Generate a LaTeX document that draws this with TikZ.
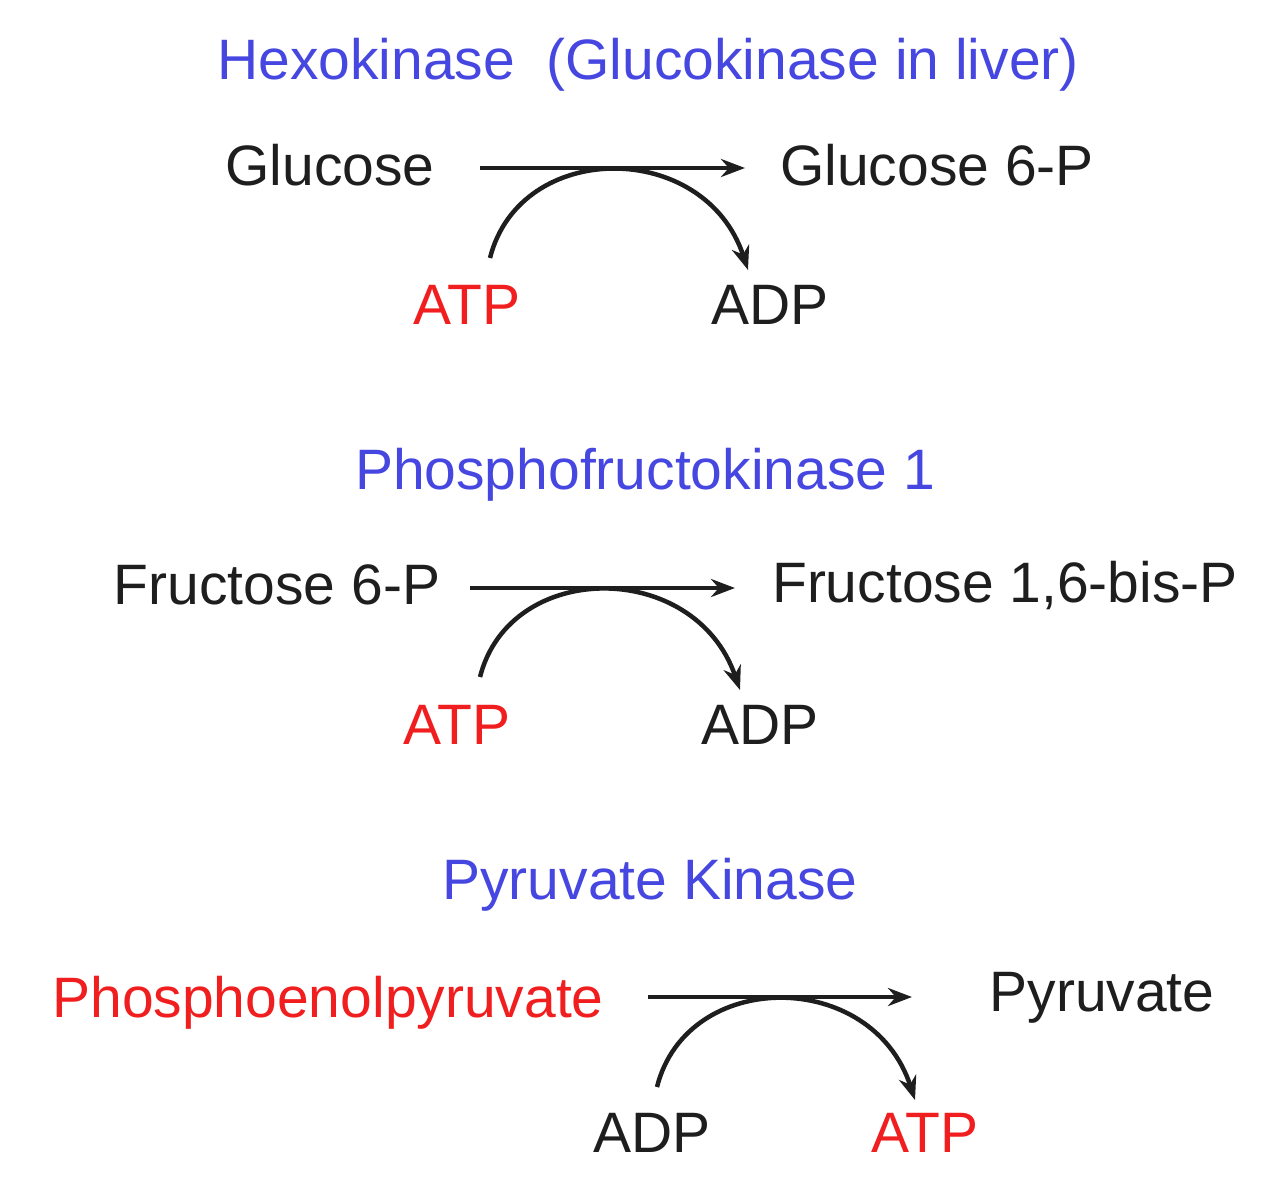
\documentclass[tikz,border=0pt]{standalone}
\usepackage{fontspec}
\setmainfont{Liberation Sans}
\usetikzlibrary{arrows.meta}
\definecolor{enz}{RGB}{70,70,225}
\definecolor{hot}{RGB}{240,30,30}
\definecolor{ink}{RGB}{30,30,30}
\tikzset{
  lbl/.style={inner sep=0pt,font=\fontsize{57}{60}\selectfont,text=ink},
  enzl/.style={lbl,text=enz},
  redl/.style={lbl,text=hot},
  rxn/.style={line width=4.5pt,draw=ink,-{Stealth[length=24pt,width=18pt]}},
}
\begin{document}
\begin{tikzpicture}[x=1pt,y=-1pt]
\useasboundingbox (0,0) rectangle (1268,1200);
% Row 1
\node[enzl] (t1) at (648,65) {Hexokinase\ \ (Glucokinase in liver)};
\node[lbl] (glc) at (330,165) {Glucose};
\node[lbl] (g6p) at (937,165) {Glucose 6-P};
\coordinate (a1s) at (480,168); \coordinate (a1e) at (745,168);
\draw[rxn] (a1s) -- (a1e);
\node[redl] (atp1) at (467,305) {ATP};
\node[lbl] (adp1) at (770,305) {ADP};
\coordinate (c1s) at (490,258); \coordinate (c1e) at (748,270);
\draw[rxn] (c1s) .. controls (520,139) and (705,139) .. (c1e);
% Row 2
\node[enzl] (t2) at (645,475) {Phosphofructokinase 1};
\node[lbl] (f6p) at (277,585) {Fructose 6-P};
\node[lbl] (fbp) at (1005,585) {Fructose 1,6-bis-P};
\coordinate (a2s) at (470,588); \coordinate (a2e) at (735,588);
\draw[rxn] (a2s) -- (a2e);
\node[redl] (atp2) at (457,725) {ATP};
\node[lbl] (adp2) at (760,725) {ADP};
\coordinate (c2s) at (480,677); \coordinate (c2e) at (740,690);
\draw[rxn] (c2s) .. controls (510,559) and (695,559) .. (c2e);
% Row 3
\node[enzl] (t3) at (650,885) {Pyruvate Kinase};
\node[redl] (pep) at (328,1003) {Phosphoenolpyruvate};
\node[lbl] (pyr) at (1102,998) {Pyruvate};
\coordinate (a3s) at (648,997); \coordinate (a3e) at (912,997);
\draw[rxn] (a3s) -- (a3e);
\node[lbl] (adp3) at (652,1133) {ADP};
\node[redl] (atp3) at (925,1133) {ATP};
\coordinate (c3s) at (657,1087); \coordinate (c3e) at (915,1100);
\draw[rxn] (c3s) .. controls (687,968) and (872,968) .. (c3e);
\end{tikzpicture}
\end{document}
